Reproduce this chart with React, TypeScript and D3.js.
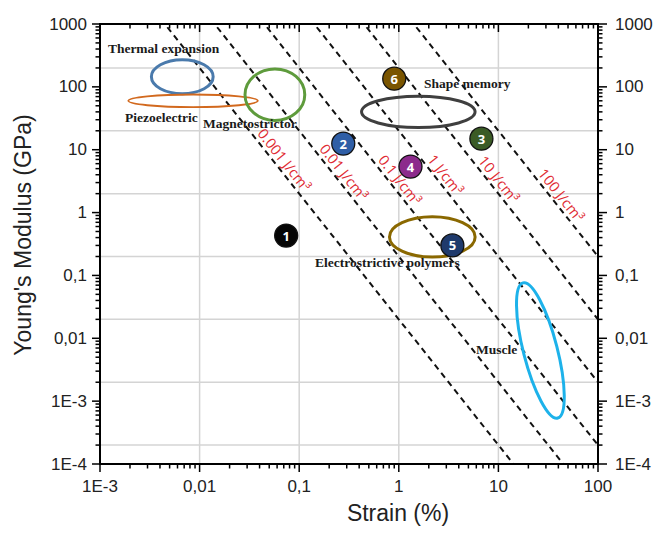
import React from "react";
import * as d3 from "d3";

// Axis extents
const strainDomain: [number, number] = [1e-3, 100];
const modulusDomain: [number, number] = [1e-4, 1000];

// Tick labels
const xTickValues = [1e-3, 0.01, 0.1, 1, 10, 100];
const xTickLabels = ["1E-3", "0,01", "0,1", "1", "10", "100"];
const yTickValues = [1e-4, 1e-3, 0.01, 0.1, 1, 10, 100, 1000];
const yTickLabels = ["1E-4", "1E-3", "0,01", "0,1", "1", "10", "100", "1000"];

// Iso energy-density lines (J/cm³) and where their labels sit (modulus, GPa)
const energyDensities = [0.001, 0.01, 0.1, 1, 10, 100];
const energyLabels = ["0.001 J/cm³", "0.01 J/cm³", "0.1 J/cm³", "1 J/cm³", "10 J/cm³", "100 J/cm³"];
const energyLabelModulus = [6.9, 4.4, 3.3, 4.0, 3.4, 1.9];

// Material regions: centre (strain %, modulus GPa), half-widths in decades
const regionNames = ["Thermal expansion", "Piezoelectric", "Magnetostrictor", "Shape memory", "Electrostrictive polymers", "Muscle"];
const regionStrain = [0.0067, 0.0086, 0.057, 1.57, 2.17, 26.4];
const regionModulus = [145, 60, 75, 40, 0.41, 0.0064];
const regionHalfDecX = [0.31, 0.65, 0.3, 0.57, 0.43, 0.17];
const regionHalfDecY = [0.27, 0.1, 0.41, 0.25, 0.32, 1.11];
const regionAngle = [0, 0, 0, 0, 0, -14.4];
const regionColors = ["#4a7aac", "#d2691e", "#5e9b3c", "#3f3f3f", "#8a6800", "#1db2ea"];

// Region name labels (strain %, modulus GPa at text start / baseline)
const regionLabelStrain = [0.0012, 0.00178, 0.0108, 1.79, 0.144, 5.96];
const regionLabelModulus = [346, 27.6, 22.2, 96, 0.136, 0.0056];

// Numbered actuator points
const pointIds = ["1", "2", "3", "4", "5", "6"];
const pointStrain = [0.074, 0.277, 6.75, 1.31, 3.45, 0.9];
const pointModulus = [0.43, 12.5, 15, 5.4, 0.3, 135];
const pointColors = ["#050505", "#2f5ea6", "#3b5b26", "#8c2a8c", "#1f3a6c", "#7a5500"];

const W = 653;
const H = 534;
const left = 100;
const right = 598;
const top = 24;
const bottom = 464;

export default function App() {
  const x = d3.scaleLog().domain(strainDomain).range([left, right]);
  const y = d3.scaleLog().domain(modulusDomain).range([bottom, top]);

  const minorX: number[] = [];
  for (let e = -3; e < 2; e++) for (let m = 2; m <= 9; m++) minorX.push(m * Math.pow(10, e));
  const minorY: number[] = [];
  for (let e = -4; e < 3; e++) for (let m = 2; m <= 9; m++) minorY.push(m * Math.pow(10, e));
  const gridY = [2e-4, 2e-3, 0.02, 0.2, 2, 20, 200];
  const gridX = [0.01, 0.1, 1, 10];

  // E (GPa) = 2·W / ε², with ε in % and W in J/cm³ → E = 20·W/ε²
  const modulusAt = (w: number, s: number) => (20 * w) / (s * s);
  const strainAt = (w: number, e: number) => Math.sqrt((20 * w) / e);

  const line = d3.line<[number, number]>().x((d) => x(d[0])).y((d) => y(d[1]));

  const pxPerDecX = (right - left) / 5;
  const pxPerDecY = (bottom - top) / 7;
  const slopeAngle = (Math.atan((2 * pxPerDecY) / pxPerDecX) * 180) / Math.PI;

  const tickFont = "'Liberation Sans', Arial, sans-serif";

  return (
    <svg width={W} height={H} style={{ position: "absolute", left: 0, top: 0, background: "#fff" }}>
      <defs>
        <clipPath id="plot">
          <rect x={left} y={top} width={right - left} height={bottom - top} />
        </clipPath>
      </defs>
      <rect width={W} height={H} fill="#fff" />
      {/* grid */}
      <g stroke="#d4d4d4" strokeWidth={1.5}>
        {gridX.map((v) => (
          <line key={"gx" + v} x1={x(v)} x2={x(v)} y1={top} y2={bottom} />
        ))}
        {gridY.map((v) => (
          <line key={"gy" + v} x1={left} x2={right} y1={y(v)} y2={y(v)} />
        ))}
      </g>

      {/* iso energy-density lines */}
      <g clipPath="url(#plot)">
        {energyDensities.map((w) => {
          const s0 = strainAt(w, modulusDomain[1] * 1.2);
          const s1 = Math.min(strainDomain[1] * 1.2, strainAt(w, modulusDomain[0] / 1.2));
          const pts: [number, number][] = [
            [s0, modulusAt(w, s0)],
            [s1, modulusAt(w, s1)],
          ];
          return (
            <path key={"w" + w} d={line(pts) || ""} fill="none" stroke="#111" strokeWidth={2} strokeDasharray="6,4.5" />
          );
        })}
      </g>
      {energyDensities.map((w, i) => {
        const e = energyLabelModulus[i];
        const cx = x(strainAt(w, e)) + 12;
        const cy = y(e);
        return (
          <text
            key={"wl" + w}
            x={cx}
            y={cy}
            transform={`rotate(${slopeAngle},${cx},${cy})`}
            textAnchor="middle"
            dominantBaseline="central"
            fill="#e02a32"
            fontFamily="'Open Sans', 'Noto Sans', sans-serif"
            fontSize={14.5}
          >
            {energyLabels[i]}
          </text>
        );
      })}

      {/* material regions */}
      {regionNames.map((n, i) => {
        const cx = x(regionStrain[i]);
        const cy = y(regionModulus[i]);
        return (
          <ellipse
            key={"r" + n}
            cx={cx}
            cy={cy}
            rx={regionHalfDecX[i] * pxPerDecX}
            ry={regionHalfDecY[i] * pxPerDecY}
            transform={`rotate(${regionAngle[i]},${cx},${cy})`}
            fill="none"
            stroke={regionColors[i]}
            strokeWidth={i === 1 ? 1.8 : 3}
          />
        );
      })}
      {regionNames.map((n, i) => (
        <text
          key={"rl" + n}
          x={x(regionLabelStrain[i])}
          y={y(regionLabelModulus[i])}
          fontFamily="'Liberation Serif', 'Times New Roman', serif"
          fontWeight="bold"
          fontSize={13.5}
          fill="#1a1a1a"
        >
          {n}
        </text>
      ))}

      {/* numbered points */}
      {pointIds.map((id, i) => (
        <g key={"p" + id}>
          <circle cx={x(pointStrain[i])} cy={y(pointModulus[i])} r={11.5} fill={pointColors[i]} stroke="#111" strokeWidth={1.3} />
          <text
            x={x(pointStrain[i])}
            y={y(pointModulus[i])}
            textAnchor="middle"
            dominantBaseline="central"
            fill="#fff"
            fontFamily="'Open Sans', 'Noto Sans', sans-serif"
            fontWeight="bold"
            fontSize={13}
          >
            {id}
          </text>
        </g>
      ))}

      {/* axes frame */}
      <g stroke="#000" strokeWidth={2} fill="none">
        <rect x={left} y={top} width={right - left} height={bottom - top} />
      </g>
      {/* bottom ticks (outward) and top ticks (inward) */}
      <g stroke="#000" strokeWidth={1.5}>
        {xTickValues.map((v) => (
          <g key={"xt" + v}>
            <line x1={x(v)} x2={x(v)} y1={bottom} y2={bottom + 8} />
            <line x1={x(v)} x2={x(v)} y1={top} y2={top + 8} />
          </g>
        ))}
        {minorX.map((v) => (
          <g key={"xm" + v}>
            <line x1={x(v)} x2={x(v)} y1={bottom} y2={bottom + 4.5} />
            <line x1={x(v)} x2={x(v)} y1={top} y2={top + 4.5} />
          </g>
        ))}
        {yTickValues.map((v) => (
          <g key={"yt" + v}>
            <line x1={left - 8} x2={left} y1={y(v)} y2={y(v)} />
            <line x1={right} x2={right + 9} y1={y(v)} y2={y(v)} />
          </g>
        ))}
        {minorY.map((v) => (
          <g key={"ym" + v}>
            <line x1={left - 4.5} x2={left} y1={y(v)} y2={y(v)} />
            <line x1={right} x2={right + 4.5} y1={y(v)} y2={y(v)} />
          </g>
        ))}
      </g>

      {/* tick labels */}
      <g fontFamily={tickFont} fontSize={17} fill="#222">
        {xTickValues.map((v, i) => (
          <text key={"xl" + v} x={x(v)} y={bottom + 28} textAnchor="middle">
            {xTickLabels[i]}
          </text>
        ))}
        {yTickValues.map((v, i) => (
          <g key={"yl" + v}>
            <text x={left - 13} y={y(v)} textAnchor="end" dominantBaseline="central">
              {yTickLabels[i]}
            </text>
            <text x={right + 17} y={y(v)} textAnchor="start" dominantBaseline="central">
              {yTickLabels[i]}
            </text>
          </g>
        ))}
      </g>

      {/* axis titles */}
      <text x={398} y={521} textAnchor="middle" fontFamily={tickFont} fontSize={23} fill="#222">
        Strain (%)
      </text>
      <text
        x={23}
        y={235}
        transform="rotate(-90,23,235)"
        textAnchor="middle"
        dominantBaseline="central"
        fontFamily={tickFont}
        fontSize={23}
        fill="#222"
      >
        Young's Modulus (GPa)
      </text>
    </svg>
  );
}
